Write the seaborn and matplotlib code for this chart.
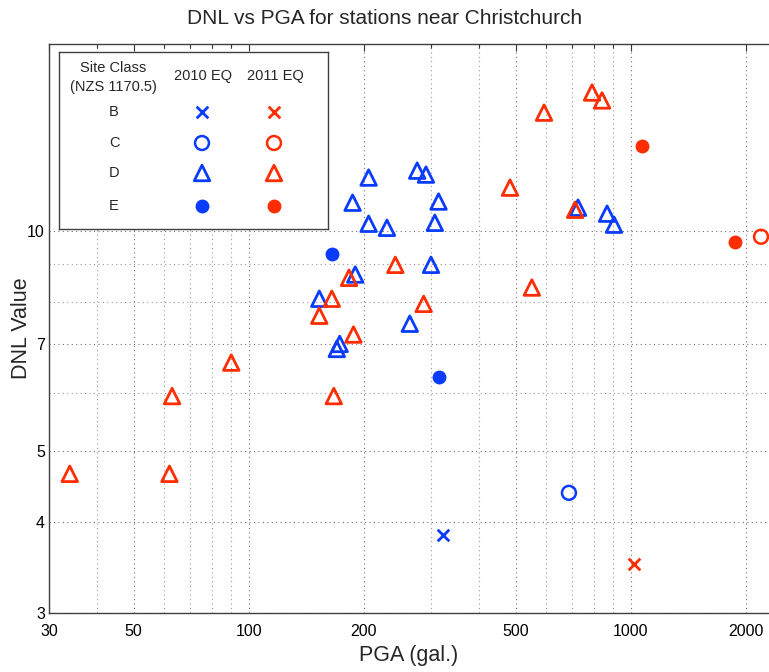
import numpy as np
import pandas as pd
import matplotlib
matplotlib.use("Agg")
import matplotlib.pyplot as plt
import seaborn as sns
from matplotlib.ticker import FixedLocator, FixedFormatter, NullFormatter

# ---------------- data ----------------
# 2010 earthquake
pga_2010_B = [322]
dnl_2010_B = [3.84]
pga_2010_C = [689]
dnl_2010_C = [4.38]
pga_2010_D = [206, 187, 206, 230, 276, 291, 314, 307, 300, 190, 153, 264, 173, 170, 728, 867, 904]
dnl_2010_D = [11.82, 10.92, 10.22, 10.09, 12.08, 11.93, 10.96, 10.25, 8.98, 8.71, 8.07, 7.46, 7.00, 6.89, 10.75, 10.55, 10.19]
pga_2010_E = [165, 314]
dnl_2010_E = [9.30, 6.31]

# 2011 earthquake
pga_2011_B = [1020]
dnl_2011_B = [3.50]
pga_2011_C = [2193]
dnl_2011_C = [9.81]
pga_2011_D = [34, 62, 63, 90, 242, 183, 165, 153, 287, 188, 167, 593, 792, 841, 483, 715, 551]
dnl_2011_D = [4.65, 4.65, 5.94, 6.60, 8.98, 8.62, 8.07, 7.65, 7.94, 7.21, 5.94, 14.5, 15.45, 15.07, 11.45, 10.68, 8.36]
pga_2011_E = [1071, 1875]
dnl_2011_E = [13.07, 9.66]

site_classes = ["B", "C", "D", "E"]
events = ["2010 EQ", "2011 EQ"]

xtick_values = [30, 50, 100, 200, 500, 1000, 2000]
xtick_labels = ["30", "50", "100", "200", "500", "1000", "2000"]
xminor_values = [40, 60, 70, 80, 90, 300, 400, 600, 700, 800, 900]
ytick_values = [3, 4, 5, 7, 10]
ytick_labels = ["3", "4", "5", "7", "10"]
yminor_values = [6, 8, 9]

# ---------------- build table ----------------
series = {
    ("2010 EQ", "B"): (pga_2010_B, dnl_2010_B),
    ("2010 EQ", "C"): (pga_2010_C, dnl_2010_C),
    ("2010 EQ", "D"): (pga_2010_D, dnl_2010_D),
    ("2010 EQ", "E"): (pga_2010_E, dnl_2010_E),
    ("2011 EQ", "B"): (pga_2011_B, dnl_2011_B),
    ("2011 EQ", "C"): (pga_2011_C, dnl_2011_C),
    ("2011 EQ", "D"): (pga_2011_D, dnl_2011_D),
    ("2011 EQ", "E"): (pga_2011_E, dnl_2011_E),
}
rows = []
for (ev, cls), (xs, ys) in series.items():
    for xv, yv in zip(xs, ys):
        rows.append({"event": ev, "site": cls, "pga": xv, "dnl": yv})
df = pd.DataFrame(rows)

# ---------------- styling ----------------
sns.set_theme(style="white")
plt.rcParams["font.family"] = ["Liberation Sans", "DejaVu Sans"]

BLUE = "#0a3cff"
RED = "#ff2d00"
colors = {"2010 EQ": BLUE, "2011 EQ": RED}


def marker_kws(cls, color):
    if cls == "B":
        return dict(marker="x", s=70, color=color, linewidth=2.0)
    if cls == "C":
        return dict(marker="o", s=100, facecolor="none", edgecolor=color, linewidth=1.8)
    if cls == "D":
        return dict(marker="^", s=125, facecolor="none", edgecolor=color, linewidth=2.0)
    return dict(marker="o", s=100, color=color, edgecolor=color, linewidth=0)


W, H = 769, 672
fig = plt.figure(figsize=(W / 100, H / 100), dpi=100)
fig.patch.set_facecolor("white")


def fx(px):
    return px / W


def fy(py):
    return 1 - py / H


# main axes (extends slightly beyond right edge, as in the cropped reference)
AX_L, AX_R, AX_T, AX_B = 49, 813, 44, 613
ax = fig.add_axes([fx(AX_L), fy(AX_B), (AX_R - AX_L) / W, (AX_B - AX_T) / H])
ax.set_xscale("log")
ax.set_yscale("log")

for ev in events:
    for cls in site_classes:
        sub = df[(df["event"] == ev) & (df["site"] == cls)]
        sns.scatterplot(data=sub, x="pga", y="dnl", ax=ax, legend=False,
                        zorder=3, **marker_kws(cls, colors[ev]))

ax.set_xlim(30, 3000)
ax.set_ylim(3, 18)

ax.xaxis.set_major_locator(FixedLocator(xtick_values))
ax.xaxis.set_major_formatter(FixedFormatter(xtick_labels))
ax.xaxis.set_minor_locator(FixedLocator(xminor_values))
ax.xaxis.set_minor_formatter(NullFormatter())
ax.yaxis.set_major_locator(FixedLocator(ytick_values))
ax.yaxis.set_major_formatter(FixedFormatter(ytick_labels))
ax.yaxis.set_minor_locator(FixedLocator(yminor_values))
ax.yaxis.set_minor_formatter(NullFormatter())

ax.grid(True, which="major", linestyle=(0, (1, 3)), linewidth=0.8, color="0.45")
ax.grid(True, which="minor", linestyle=(0, (1, 3)), linewidth=0.8, color="0.6")
ax.set_axisbelow(True)

ax.tick_params(which="major", direction="in", top=True, right=True, length=5,
               width=0.8, color="0.2", labelsize=11.5, labelcolor="black")
ax.tick_params(which="minor", direction="in", top=True, right=True, length=3,
               width=0.8, color="0.2")
ax.tick_params(axis="x", which="major", pad=8)
ax.tick_params(axis="y", which="major", pad=3)
for sp in ax.spines.values():
    sp.set_color("0.25")
    sp.set_linewidth(1.0)
ax.set_xlabel("")
ax.set_ylabel("")

fig.text(fx(385), fy(18), "DNL vs PGA for stations near Christchurch",
         ha="center", va="center", fontsize=15)
fig.text(fx(409), fy(656), "PGA (gal.)", ha="center", va="center", fontsize=15.5)
fig.text(fx(22), fy(328), "DNL Value", ha="center", va="center", fontsize=15.5,
         rotation=90)

# ---------------- legend box (inset axes in pixel units) ----------------
LG_L, LG_R, LG_T, LG_B = 59, 328, 52, 229
lax = fig.add_axes([fx(LG_L), fy(LG_B), (LG_R - LG_L) / W, (LG_B - LG_T) / H])
lax.set_xlim(LG_L, LG_R)
lax.set_ylim(LG_B, LG_T)
lax.set_xticks([])
lax.set_yticks([])
lax.set_facecolor("white")
for sp in lax.spines.values():
    sp.set_color("0.25")
    sp.set_linewidth(1.0)

leg_fs = 10.5
lax.text(113, 68, "Site Class", ha="center", va="center", fontsize=leg_fs)
lax.text(113, 87, "(NZS 1170.5)", ha="center", va="center", fontsize=leg_fs)
ev_x = {"2010 EQ": 203, "2011 EQ": 275}
for ev in events:
    lax.text(ev_x[ev], 76, ev, ha="center", va="center", fontsize=leg_fs)
row_y = {"B": 112, "C": 143, "D": 173, "E": 206}
for cls in site_classes:
    lax.text(114, row_y[cls], cls, ha="center", va="center", fontsize=leg_fs)
    for ev in events:
        sns.scatterplot(x=[ev_x[ev] - 1], y=[row_y[cls]], ax=lax, legend=False,
                        **marker_kws(cls, colors[ev]))
lax.set_xlabel("")
lax.set_ylabel("")

fig.savefig("out.png", dpi=100)
